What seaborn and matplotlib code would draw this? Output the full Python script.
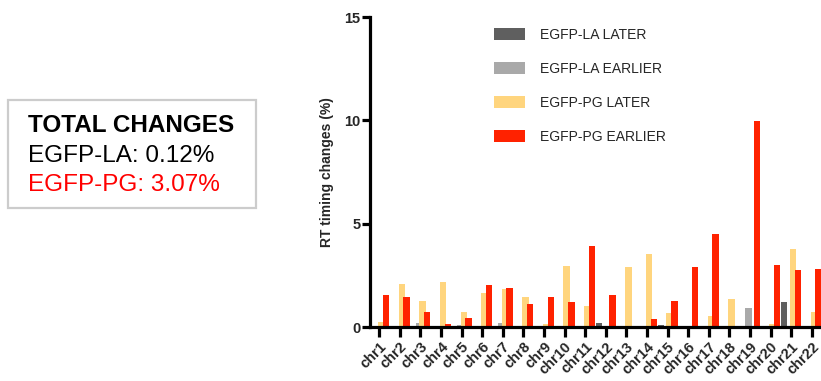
import matplotlib
matplotlib.use('Agg')
import matplotlib.pyplot as plt
from matplotlib.patches import Patch, Rectangle
import seaborn as sns

# ==============================================================================
# DADOS
# ==============================================================================
chroms = ['chr%d' % i for i in range(1, 23)]
la_later = [0, 0, 0, 0, 0, 0, 0, 0.05, 0, 0, 0, 0.18, 0, 0, 0.1, 0, 0, 0.05, 0, 0, 1.2, 0]
la_earlier = [0, 0.05, 0.17, 0, 0.08, 0, 0.17, 0, 0, 0, 0, 0, 0, 0, 0, 0, 0, 0, 0.92, 0, 0, 0]
pg_later = [0.24, 2.09, 1.24, 2.19, 0.75, 1.63, 1.84, 1.44, 0.13, 2.93, 1.04, 0, 2.89, 3.55,
            0.68, 0, 0.53, 1.37, 0, 0.13, 3.77, 0.73]
pg_earlier = [1.53, 1.45, 0.71, 0.13, 0.46, 2.03, 1.87, 1.13, 1.44, 1.21, 3.93, 1.57, 0, 0.41,
              1.28, 2.9, 4.5, 0, 9.95, 2.98, 2.78, 2.8]

series_labels = ['EGFP-LA LATER', 'EGFP-LA EARLIER', 'EGFP-PG LATER', 'EGFP-PG EARLIER']
series_colors = ['#5f5f5f', '#a9a9a9', '#ffd57e', '#ff2200']
series_offsets = [-0.33, -0.07, 0.10, 0.33]
bar_width = 0.31

# ==============================================================================
# FIGURA
# ==============================================================================
sns.set_style('white')
plt.rcParams['font.family'] = ['Liberation Sans', 'DejaVu Sans']

fig = plt.figure(figsize=(8.21, 3.81), dpi=100)
ax = fig.add_axes([0.4507, 0.1417, 0.5505, 0.8136])

for vals, color, off in zip([la_later, la_earlier, pg_later, pg_earlier], series_colors, series_offsets):
    n_before = len(ax.patches)
    sns.barplot(x=chroms, y=vals, color=color, width=bar_width, errorbar=None,
                saturation=1, ax=ax, linewidth=0)
    # desloca as barras desta série dentro do grupo
    for p in ax.patches[n_before:]:
        p.set_x(p.get_x() + off)

ax.set_xlim(-0.45, 21.5)
ax.set_ylim(0, 15)
ax.set_yticks([0, 5, 10, 15])
ax.set_xlabel('')
ax.set_ylabel('RT timing changes (%)', fontsize=10, fontweight='bold', labelpad=7)

for side in ['top', 'right']:
    ax.spines[side].set_visible(False)
for side in ['left', 'bottom']:
    ax.spines[side].set_linewidth(2.3)
    ax.spines[side].set_color('black')

ax.tick_params(axis='both', which='major', direction='out', length=6, width=2.3,
               color='black', labelsize=10.5, pad=1)
ax.tick_params(axis='x', length=7, pad=2)
ax.tick_params(left=True, bottom=True)
for lbl in ax.get_yticklabels():
    lbl.set_fontweight('bold')
ax.set_xticks(range(len(chroms)))
ax.set_xticklabels(chroms, rotation=45, ha='right', rotation_mode='anchor',
                   fontweight='bold', fontsize=10.5)

handles = [Patch(facecolor=c, edgecolor='none') for c in series_colors]
ax.legend(handles, series_labels, loc='upper left', bbox_to_anchor=(0.275, 0.966),
          frameon=False, fontsize=10, handlelength=2.2, handleheight=0.9,
          labelspacing=1.45, handletextpad=1.1, borderpad=0, borderaxespad=0)

# Caixa de texto à esquerda
W, H = 821, 381
fig.add_artist(Rectangle((8 / W, 1 - 208 / H), (256 - 8) / W, (208 - 100) / H,
                         transform=fig.transFigure, facecolor='white',
                         edgecolor='#cccccc', linewidth=1.6))
fig.text(28 / W, 1 - 125 / H, 'TOTAL CHANGES', fontsize=17.5, fontweight='bold',
         color='black', va='center', ha='left')
fig.text(28 / W, 1 - 156 / H, 'EGFP-LA: 0.12%', fontsize=17.5,
         color='black', va='center', ha='left')
fig.text(28 / W, 1 - 185 / H, 'EGFP-PG: 3.07%', fontsize=17.5,
         color='#ff0000', va='center', ha='left')

fig.savefig('out.png', dpi=100)
plt.close(fig)
